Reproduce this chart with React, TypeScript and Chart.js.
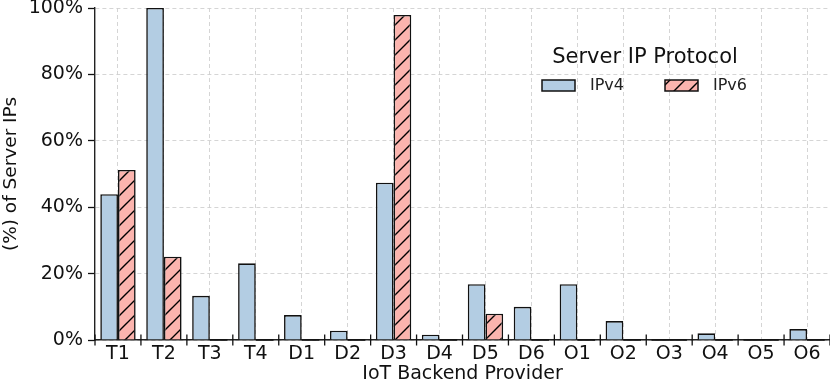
import React, { useEffect, useRef } from "react";
import { Chart, registerables } from "chart.js";

Chart.register(...registerables);

const categories = ["T1", "T2", "T3", "T4", "D1", "D2", "D3", "D4", "D5", "D6", "O1", "O2", "O3", "O4", "O5", "O6"];
const ipv4Values = [43.9, 100, 13.3, 23.1, 7.5, 2.8, 47.4, 1.6, 16.8, 10.0, 16.8, 5.7, 0, 2.0, 0, 3.3];
const ipv6Values = [51.2, 25.1, 0, 0, 0, 0, 97.9, 0, 7.9, 0, 0, 0, 0, 0, 0, 0];
const yTicks = [0, 20, 40, 60, 80, 100];
const seriesNames = ["IPv4", "IPv6"];
const legendTitle = "Server IP Protocol";
const xTitle = "IoT Backend Provider";
const yTitle = "(%) of Server IPs";

const FONT = "'DejaVu Sans', sans-serif";
const BLUE = "#b3cde3";
const PINK = "#fbb4ae";
const INK = "#111";

function makeHatch(bg: string): CanvasPattern | string {
  const s = 15;
  const c = document.createElement("canvas");
  c.width = s;
  c.height = s;
  const g = c.getContext("2d");
  if (!g) return bg;
  g.fillStyle = bg;
  g.fillRect(0, 0, s, s);
  g.strokeStyle = "#000";
  g.lineWidth = 1.4;
  g.beginPath();
  g.moveTo(-2, s + 2);
  g.lineTo(s + 2, -2);
  g.moveTo(-2, 2);
  g.lineTo(2, -2);
  g.moveTo(s - 2, s + 2);
  g.lineTo(s + 2, s - 2);
  g.stroke();
  const p = g.createPattern(c, "repeat");
  return p || bg;
}

export default function App() {
  const ref = useRef<HTMLCanvasElement | null>(null);
  useEffect(() => {
    if (!ref.current) return;
    const hatch = makeHatch(PINK);

    const boundaryTicks = {
      id: "boundaryTicks",
      afterDatasetsDraw(chart: any) {
        const { ctx } = chart;
        const xs = chart.scales.x;
        const bottom = chart.chartArea.bottom;
        const n = categories.length;
        ctx.save();
        ctx.strokeStyle = INK;
        ctx.lineWidth = 1.5;
        chart.data.datasets.forEach((ds: any, di: number) => {
          const meta = chart.getDatasetMeta(di);
          meta.data.forEach((bar: any, i: number) => {
            if (ds.data[i] === 0) {
              const w = bar.width;
              ctx.beginPath();
              ctx.moveTo(bar.x - w / 2, bottom);
              ctx.lineTo(bar.x + w / 2, bottom);
              ctx.stroke();
            }
          });
        });
        ctx.lineWidth = 1.3;
        const half = (xs.getPixelForValue(1) - xs.getPixelForValue(0)) / 2;
        for (let i = 0; i <= n; i++) {
          const a = xs.getPixelForValue(Math.max(0, Math.min(n - 1, i)));
          const x = i === n ? a + half : a - half;
          ctx.beginPath();
          ctx.moveTo(x, bottom - 5.5);
          ctx.lineTo(x, bottom + 5.5);
          ctx.stroke();
        }
        ctx.restore();
      },
    };

    const customLegend = {
      id: "customLegend",
      afterDraw(chart: any) {
        const { ctx } = chart;
        ctx.save();
        ctx.fillStyle = INK;
        ctx.font = `21px ${FONT}`;
        ctx.textAlign = "center";
        ctx.textBaseline = "middle";
        ctx.fillText(legendTitle, 645, 58);
        const items = [
          { x: 542, fill: chart.data.datasets[0].backgroundColor, label: seriesNames[0] },
          { x: 665, fill: chart.data.datasets[1].backgroundColor, label: seriesNames[1] },
        ];
        ctx.font = `16px ${FONT}`;
        ctx.textAlign = "left";
        items.forEach((it) => {
          ctx.fillStyle = it.fill;
          ctx.fillRect(it.x, 80, 33, 11);
          ctx.strokeStyle = INK;
          ctx.lineWidth = 1.5;
          ctx.strokeRect(it.x, 80, 33, 11);
          ctx.fillStyle = "#222";
          ctx.fillText(it.label, it.x + 48, 86);
        });
        ctx.restore();
      },
    };

    const chart = new Chart(ref.current, {
      type: "bar",
      data: {
        labels: categories,
        datasets: [
          {
            label: seriesNames[0],
            data: ipv4Values,
            backgroundColor: BLUE,
            borderColor: INK,
            borderWidth: 1.6,
            borderSkipped: "bottom",
            categoryPercentage: 0.77,
            barPercentage: 1,
          },
          {
            label: seriesNames[1],
            data: ipv6Values,
            backgroundColor: hatch as any,
            borderColor: INK,
            borderWidth: 1.6,
            borderSkipped: "bottom",
            categoryPercentage: 0.77,
            barPercentage: 1,
          },
        ],
      },
      options: {
        animation: false,
        responsive: false,
        maintainAspectRatio: false,
        layout: { padding: { top: 0, right: 0, left: 0, bottom: 0 } },
        plugins: {
          legend: { display: false },
          tooltip: { enabled: false },
        },
        scales: {
          x: {
            type: "category",
            grid: {
              offset: false,
              color: "#d0d0d0",
              lineWidth: 0.9,
              drawTicks: false,
            },
            border: { display: true, color: "#222", width: 1.4, dash: [4, 3] },
            ticks: {
              color: INK,
              font: { family: FONT, size: 19 },
              padding: 3,
              autoSkip: false,
              maxRotation: 0,
            },
            title: {
              display: true,
              text: xTitle,
              color: INK,
              font: { family: FONT, size: 19 },
              padding: { top: 0, bottom: 0 },
            },
            afterFit(scale: any) {
              scale.height = 45;
            },
          },
          y: {
            min: 0,
            max: 100,
            afterBuildTicks(scale: any) {
              scale.ticks = yTicks.map((v) => ({ value: v }));
            },
            grid: {
              color: "#d0d0d0",
              lineWidth: 0.9,
              drawTicks: true,
              tickLength: 7,
              tickColor: INK,
              tickWidth: 1.3,
            },
            border: { display: true, color: "#222", width: 1.4, dash: [4, 3] },
            ticks: {
              color: INK,
              font: { family: FONT, size: 19 },
              padding: 5,
              callback: (v: any) => `${v}%`,
            },
            title: {
              display: true,
              text: yTitle,
              color: INK,
              font: { family: FONT, size: 18.5 },
              padding: { top: 0, bottom: 2 },
            },
            afterFit(scale: any) {
              scale.width = 95;
              scale.paddingTop = 8;
              scale.paddingBottom = 0;
            },
          },
        },
      },
      plugins: [boundaryTicks, customLegend],
    });
    return () => chart.destroy();
  }, []);

  return (
    <div style={{ position: "absolute", left: 0, top: 0, width: 830, height: 385 }}>
      <canvas ref={ref} width={830} height={385} style={{ width: 830, height: 385 }} />
    </div>
  );
}
